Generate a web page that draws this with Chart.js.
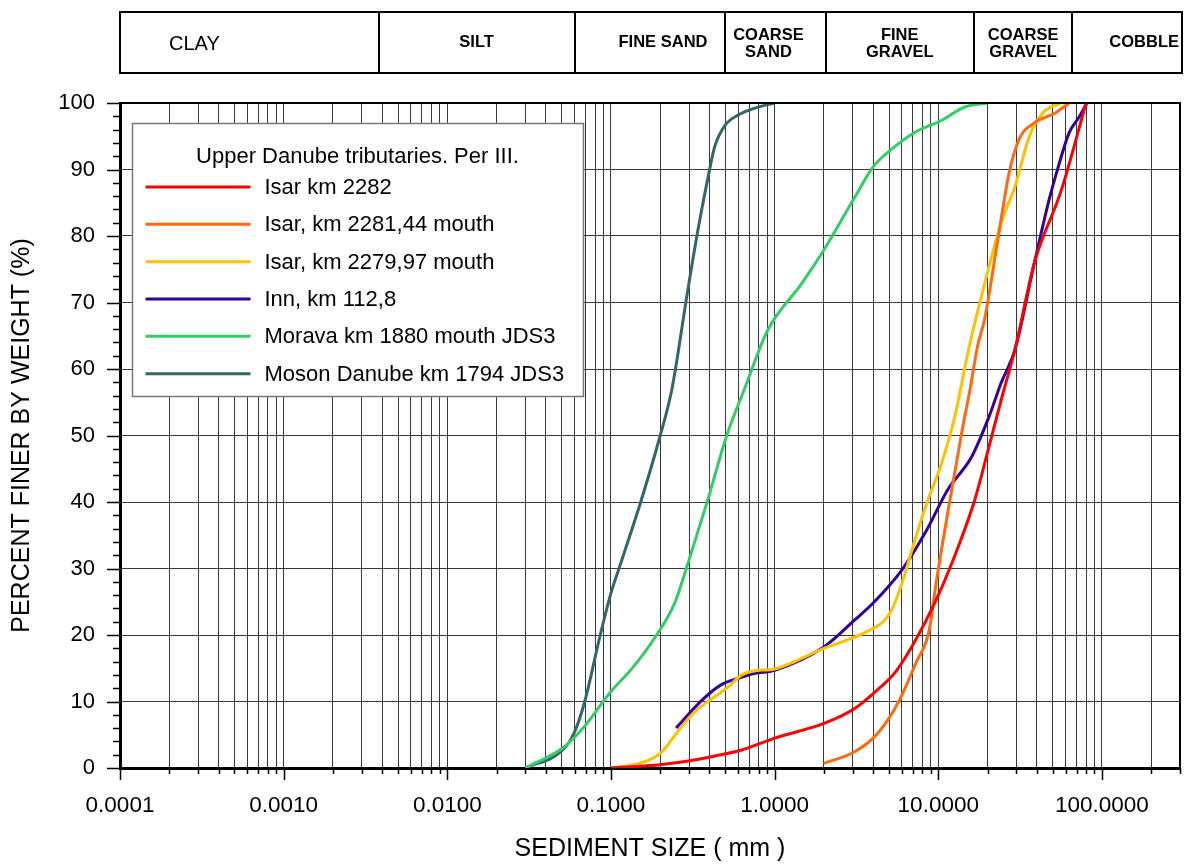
<!DOCTYPE html>
<html>
<head>
<meta charset="utf-8">
<title>Upper Danube tributaries - grain size</title>
<script src="https://cdn.jsdelivr.net/npm/chart.js@4.4.1/dist/chart.umd.min.js"></script>
<style>
  body { margin: 0; background: #fff; }
  #wrap { width: 1184px; height: 865px; position: relative; }
</style>
</head>
<body>
<div id="wrap"><canvas id="sieve"></canvas></div>
<script>
var FONT = "'Liberation Sans', Arial, Helvetica, sans-serif";

// grain size curves: size (mm) / percent finer
var isar2282Size = [0.1, 0.2, 0.29, 0.47, 0.63, 1.0, 2.0, 3.1, 4.0, 5.5, 7.1, 9.5, 12.1, 16.7, 20.4, 24.2, 29.4, 38.6, 56.5, 80];
var isar2282Pct  = [0, 0.5, 1.0, 2.0, 2.7, 4.5, 6.7, 9.0, 11.2, 14.5, 18.8, 24.8, 30.8, 40.3, 48.3, 55.3, 62.9, 75.9, 86.9, 100];

var isar228144Size = [2.0, 3.0, 4.0, 5.0, 6.0, 7.3, 8.8, 9.7, 11.5, 13.9, 15.6, 17.4, 19.2, 23.1, 27.1, 31.4, 38.6, 51.8, 63];
var isar228144Pct  = [0.7, 2.3, 4.5, 7.5, 11.0, 15.8, 20.7, 27.8, 38.8, 50.4, 56.8, 63.5, 67.5, 79.4, 89.5, 94.7, 97.0, 98.5, 100];

var isar227997Size = [0.1, 0.15, 0.2, 0.26, 0.32, 0.47, 0.52, 0.63, 0.75, 1.0, 2.0, 3.1, 4.0, 4.6, 5.2, 6.0, 7.1, 8.5, 10.5, 12.6, 15.3, 18.3, 24.2, 29.4, 35.9, 43.5, 56];
var isar227997Pct  = [0, 0.7, 2.2, 5.7, 8.3, 11.4, 12.2, 14.0, 14.6, 14.9, 18.0, 19.7, 21.0, 22.0, 23.8, 27.8, 33.8, 39.8, 45.9, 52.8, 62.9, 70.8, 82.0, 87.4, 94.9, 98.5, 100];

var innSize = [0.25, 0.36, 0.47, 0.6, 0.75, 1.0, 2.0, 3.1, 4.0, 6.0, 8.5, 11.4, 16.0, 20.4, 24.2, 29.4, 38.6, 47.5, 54.1, 63, 72.6, 81];
var innPct  = [6.0, 10.2, 12.5, 13.5, 14.2, 14.7, 18.2, 22.3, 24.8, 29.8, 35.8, 41.8, 46.8, 52.8, 57.9, 62.9, 75.9, 85.4, 90.4, 95.5, 97.9, 100];

var moravaSize = [0.03, 0.0507, 0.0686, 0.091, 0.1, 0.137, 0.19, 0.245, 0.30, 0.387, 0.51, 0.65, 0.91, 1.47, 2.0, 3.1, 4.0, 5.4, 7.1, 10.5, 14.5, 20];
var moravaPct  = [0, 3.0, 6.2, 10.2, 11.5, 15.2, 20.0, 24.8, 31.3, 40.0, 50.0, 56.8, 65.9, 72.9, 77.9, 85.9, 90.4, 93.4, 95.5, 97.4, 99.4, 100];

var mosonSize = [0.03, 0.0507, 0.0594, 0.0686, 0.0866, 0.1, 0.1166, 0.152, 0.2, 0.235, 0.295, 0.34, 0.40, 0.43, 0.5, 0.6, 0.75, 1.0];
var mosonPct  = [0, 2.7, 5.2, 9.7, 20.3, 26.3, 31.3, 40.0, 50.0, 56.8, 71.9, 80.9, 89.9, 93.4, 96.7, 98.2, 99.2, 100];

var seriesNames = ['Isar km 2282', 'Isar, km 2281,44 mouth', 'Isar, km 2279,97 mouth', 'Inn, km 112,8', 'Morava km 1880 mouth JDS3', 'Moson Danube km 1794 JDS3'];
var seriesColors = ['#ff0000', '#ff6a10', '#ffc000', '#330099', '#33cc66', '#336666'];
var legendTitle = 'Upper Danube tributaries. Per III.';

var xDecades = [0.0001, 0.001, 0.01, 0.1, 1, 10, 100];
var xTickLabels = ['0.0001', '0.0010', '0.0100', '0.1000', '1.0000', '10.0000', '100.0000'];
var xMin = 0.0001, xMax = 300;

// size classes in the header (upper limits, mm)
var bandEdges = [0.0001, 0.0038, 0.06, 0.5, 2.05, 16.5, 66, 300];
var bandNames = [['CLAY'], ['SILT'], ['FINE SAND'], ['COARSE', 'SAND'], ['FINE', 'GRAVEL'], ['COARSE', 'GRAVEL'], ['COBBLE']];

function pts(sz, pc) {
  return sz.map(function (s, i) { return { x: s, y: pc[i] }; });
}

var curves = [
  pts(isar2282Size, isar2282Pct),
  pts(isar228144Size, isar228144Pct),
  pts(isar227997Size, isar227997Pct),
  pts(innSize, innPct),
  pts(moravaSize, moravaPct),
  pts(mosonSize, mosonPct)
];

var xTickValues = [];
xDecades.forEach(function (d) {
  for (var m = 1; m <= 9; m++) {
    var v = m * d;
    if (v <= xMax * 1.0001) xTickValues.push(v);
  }
});

function decadeIndex(v) {
  for (var i = 0; i < xDecades.length; i++) {
    if (Math.abs(Math.log10(v) - Math.log10(xDecades[i])) < 1e-6) return i;
  }
  return -1;
}

var decor = {
  id: 'decor',
  afterDraw: function (chart) {
    var ctx = chart.ctx, a = chart.chartArea;
    var xs = chart.scales.x, ys = chart.scales.y;
    ctx.save();

    // frame
    ctx.strokeStyle = '#000';
    ctx.lineWidth = 2;
    ctx.beginPath();
    ctx.moveTo(a.left, a.top);
    ctx.lineTo(a.right, a.top);
    ctx.lineTo(a.right, a.bottom);
    ctx.stroke();

    // tick marks
    ctx.lineWidth = 1.5;
    ctx.beginPath();
    for (var v = 0; v <= 100; v += 2) {
      var py = Math.round(ys.getPixelForValue(v)) + 0.5;
      var len = v % 10 === 0 ? 13 : 7;
      ctx.moveTo(a.left - len, py);
      ctx.lineTo(a.left, py);
    }
    xTickValues.forEach(function (t) {
      var px = Math.round(xs.getPixelForValue(t)) + 0.5;
      var l = decadeIndex(t) >= 0 ? 12 : 6;
      ctx.moveTo(px, a.bottom);
      ctx.lineTo(px, a.bottom + l);
    });
    ctx.stroke();

    // size class header
    var top = 12, bot = 73;
    var hl = xs.getPixelForValue(bandEdges[0]);
    var hr = xs.getPixelForValue(bandEdges[bandEdges.length - 1]) + 2;
    ctx.lineWidth = 2;
    ctx.strokeRect(hl, top, hr - hl, bot - top);
    ctx.beginPath();
    for (var i = 1; i < bandEdges.length - 1; i++) {
      var bx = Math.round(xs.getPixelForValue(bandEdges[i]));
      ctx.moveTo(bx, top);
      ctx.lineTo(bx, bot);
    }
    ctx.stroke();
    var shift = [0, 0, 13, -7, 0, 0, 17];
    ctx.fillStyle = '#000';
    ctx.textBaseline = 'middle';
    for (var j = 0; j < bandNames.length; j++) {
      var x0 = xs.getPixelForValue(bandEdges[j]);
      var x1 = j === bandNames.length - 1 ? hr : xs.getPixelForValue(bandEdges[j + 1]);
      var lines = bandNames[j];
      if (j === 0) {
        ctx.font = '20px ' + FONT;
        ctx.textAlign = 'left';
        ctx.fillText(lines[0], x0 + 49, 44);
        continue;
      }
      ctx.font = 'bold 16.5px ' + FONT;
      ctx.textAlign = 'center';
      var cx = (x0 + x1) / 2 + shift[j];
      if (lines.length === 1) {
        ctx.fillText(lines[0], cx, 42);
      } else {
        ctx.fillText(lines[0], cx, 35);
        ctx.fillText(lines[1], cx, 52);
      }
    }

    // legend
    var lx = a.left + 12.5, ly = a.top + 20.5, lw = 451, lh = 273;
    ctx.fillStyle = '#fff';
    ctx.fillRect(lx, ly, lw, lh);
    ctx.strokeStyle = '#777';
    ctx.lineWidth = 1.5;
    ctx.strokeRect(lx, ly, lw, lh);
    ctx.fillStyle = '#000';
    ctx.font = '22px ' + FONT;
    ctx.textAlign = 'center';
    ctx.fillText(legendTitle, lx + 225, ly + 33);
    ctx.textAlign = 'left';
    ctx.lineWidth = 3;
    for (var k = 0; k < seriesNames.length; k++) {
      var ry = ly + 63.5 + k * 37.33;
      ctx.strokeStyle = seriesColors[k];
      ctx.beginPath();
      ctx.moveTo(lx + 13, ry);
      ctx.lineTo(lx + 118, ry);
      ctx.stroke();
      ctx.fillText(seriesNames[k], lx + 132, ry + 1);
    }
    ctx.restore();
  }
};

Chart.defaults.color = '#000';
Chart.defaults.font.family = FONT;

new Chart(document.getElementById('sieve'), {
  type: 'scatter',
  data: {
    datasets: curves.map(function (c, i) {
      return {
        label: seriesNames[i],
        data: c,
        showLine: true,
        borderColor: seriesColors[i],
        backgroundColor: seriesColors[i],
        borderWidth: 3,
        pointRadius: 0,
        cubicInterpolationMode: 'monotone'
      };
    })
  },
  options: {
    responsive: true,
    maintainAspectRatio: false,
    animation: false,
    layout: { padding: { top: 103, right: 4, left: 0, bottom: 0 } },
    plugins: {
      legend: { display: false },
      tooltip: { enabled: false }
    },
    scales: {
      x: {
        type: 'logarithmic',
        min: xMin,
        max: xMax,
        afterBuildTicks: function (scale) {
          scale.ticks = xTickValues.map(function (v) { return { value: v }; });
        },
        afterFit: function (scale) {
          scale.height = 97;
          scale.paddingLeft = 0;
          scale.paddingRight = 0;
        },
        ticks: {
          autoSkip: false,
          maxRotation: 0,
          padding: 24,
          font: { size: 22.5 },
          callback: function (v) {
            var i = decadeIndex(v);
            return i >= 0 ? xTickLabels[i] : '';
          }
        },
        grid: { color: 'rgba(0,0,0,0.78)', lineWidth: 1, drawTicks: false },
        border: { display: true, color: '#000', width: 3 },
        title: {
          display: true,
          text: 'SEDIMENT SIZE ( mm )',
          font: { size: 25 },
          padding: { top: 0, bottom: 1 }
        }
      },
      y: {
        min: 0,
        max: 100,
        ticks: { stepSize: 10, padding: 25, font: { size: 22 } },
        afterFit: function (scale) {
          scale.width = 120;
          scale.paddingTop = 0;
          scale.paddingBottom = 0;
        },
        grid: { color: 'rgba(0,0,0,0.78)', lineWidth: 1, drawTicks: false },
        border: { display: true, color: '#000', width: 3 },
        title: {
          display: true,
          text: 'PERCENT FINER BY WEIGHT (%)',
          font: { size: 25 },
          padding: { top: 7, bottom: 0 }
        }
      }
    }
  },
  plugins: [decor]
});
</script>
</body>
</html>
